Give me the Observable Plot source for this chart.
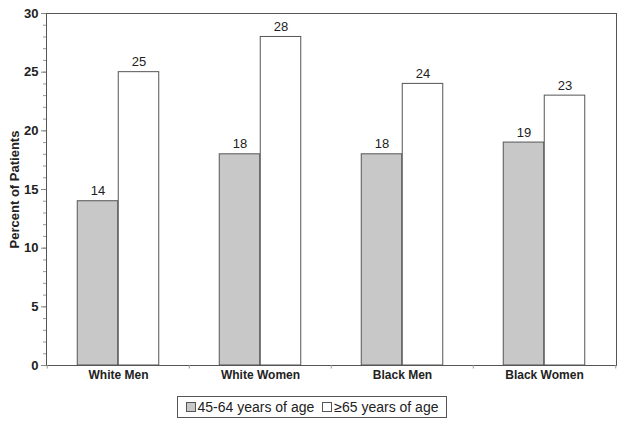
<!DOCTYPE html>
<html>
<head>
<meta charset="utf-8">
<script src="https://cdn.jsdelivr.net/npm/d3@7"></script>
<script src="https://cdn.jsdelivr.net/npm/@observablehq/plot@0.6"></script>
<style>
  body { margin: 0; background: #fff; font-family: "Liberation Sans", Arial, sans-serif; }
  #legend { text-align: center; margin-top: 6px; }
  #legend .box { display: inline-block; border: 1px solid #555; padding: 1px 4px; font-size: 14px; line-height: 18px; color: #222; }
  #legend .sw { display: inline-block; width: 8px; height: 8px; border: 1px solid #555; margin-right: 2px; vertical-align: 0px; }
  #legend .item { margin: 0 4px; }
</style>
</head>
<body>
<div id="chart"></div>
<div id="legend"></div>
<script>
const categories = ["White Men", "White Women", "Black Men", "Black Women"];
const series = ["45-64 years of age", "≥65 years of age"];
const younger = [14, 18, 18, 19];
const older = [25, 28, 24, 23];
const yTicks = [0, 5, 10, 15, 20, 25, 30];
const colors = ["#c8c8c8", "#ffffff"];

const rowsA = categories.map((c, i) => ({category: c, series: series[0], value: younger[i]}));
const rowsB = categories.map((c, i) => ({category: c, series: series[1], value: older[i]}));

const band = (624 - 46 - 8) / categories.length;
const half = band / 2;
const bw = 41;

const chart = Plot.plot({
  width: 624,
  height: 390,
  marginTop: 13,
  marginBottom: 25,
  marginLeft: 46,
  marginRight: 8,
  style: {fontFamily: "Liberation Sans, Arial, sans-serif", fontSize: "13px", color: "#222"},
  x: {domain: categories, padding: 0, label: null},
  y: {domain: [0, 30], label: "Percent of Patients"},
  color: {domain: series, range: colors},
  marks: [
    Plot.barY(rowsA, {x: "category", y: "value", fill: "series", stroke: "#555", insetLeft: half - bw, insetRight: half}),
    Plot.barY(rowsB, {x: "category", y: "value", fill: "series", stroke: "#555", insetLeft: half, insetRight: half - bw}),
    Plot.text(rowsA, {x: "category", y: "value", text: "value", dx: -bw / 2, dy: -10, fontSize: 13}),
    Plot.text(rowsB, {x: "category", y: "value", text: "value", dx: bw / 2, dy: -10, fontSize: 13}),
    Plot.frame({stroke: "#555"}),
    Plot.ruleX(categories, {x: d => d, dx: -half, y1: 0, y2: -0.3, stroke: "#999"}),
    Plot.ruleX(categories.slice(-1), {x: d => d, dx: half, y1: 0, y2: -0.3, stroke: "#999"}),
    Plot.axisY({ticks: d3.range(0, 31), tickSize: 3, tickFormat: () => "", label: null, stroke: "#999"}),
    Plot.axisY({ticks: yTicks, tickSize: 5, tickPadding: 3, fontWeight: "bold", fontSize: 13,
      label: "Percent of Patients", labelAnchor: "center", labelOffset: 37, labelArrow: "none", stroke: "#888"}),
    Plot.axisX({tickSize: 0, tickPadding: 5, fontWeight: "bold", fontSize: 12, label: null})
  ]
});
document.getElementById("chart").appendChild(chart);

const legend = document.getElementById("legend");
const box = document.createElement("div");
box.className = "box";
series.forEach((s, i) => {
  const item = document.createElement("span");
  item.className = "item";
  const sw = document.createElement("span");
  sw.className = "sw";
  sw.style.background = colors[i];
  item.appendChild(sw);
  item.appendChild(document.createTextNode(s));
  box.appendChild(item);
});
legend.appendChild(box);
</script>
</body>
</html>
